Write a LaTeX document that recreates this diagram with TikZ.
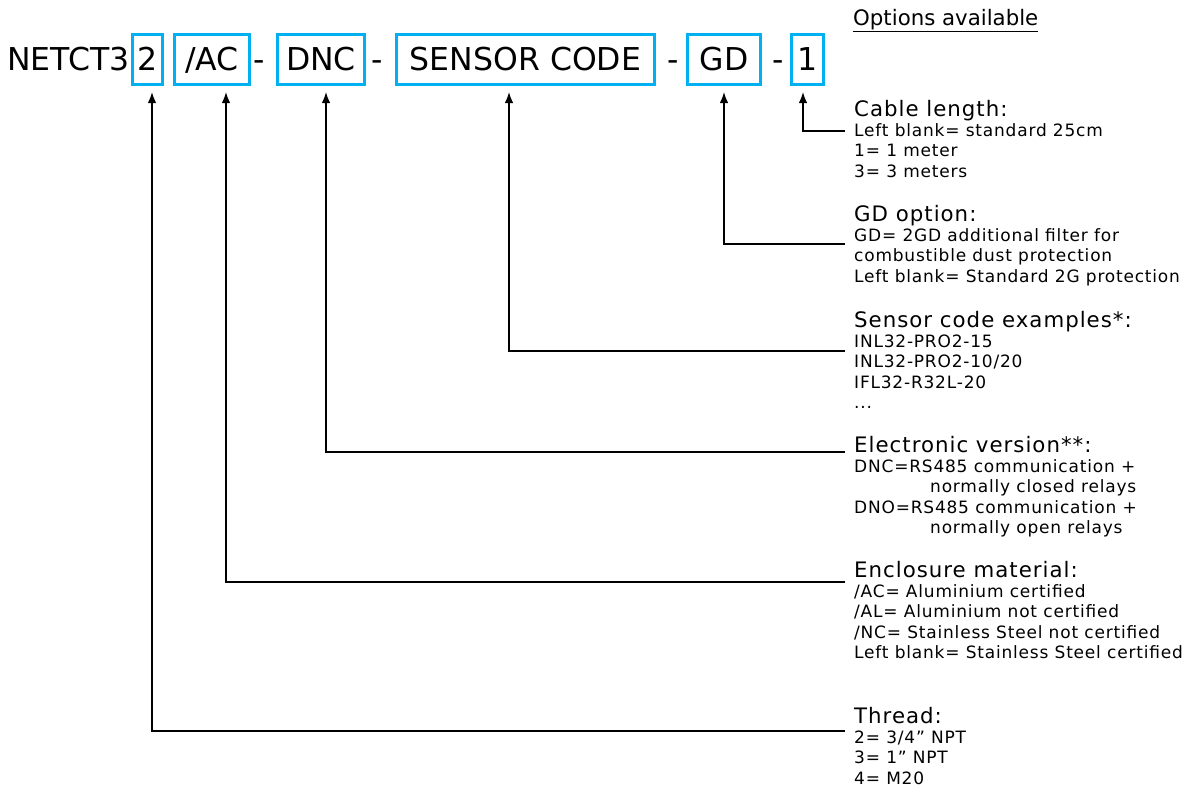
\documentclass[tikz,border=0pt]{standalone}
\usepackage{fontspec}
\setmainfont{DejaVu Sans}
\newfontfamily\bodyfam[LetterSpace=4.7]{DejaVu Sans}
\usetikzlibrary{arrows.meta}
\definecolor{boxblue}{RGB}{0,176,240}
\newcommand{\codefont}{\fontsize{31.5}{36}\selectfont}
\newcommand{\titlefont}{\fontsize{21.3}{20.5}\selectfont}
\newcommand{\bodyfont}{\bodyfam\fontsize{17}{20.3}\selectfont}

\begin{document}
\begin{tikzpicture}[x=1pt,y=-1pt,
        codebox/.style={draw=boxblue,line width=3pt,inner sep=0pt,minimum height=50pt,text height=27pt,text depth=6pt,font=\codefont},
        optblock/.style={anchor=north west,inner sep=0pt,align=left,font=\bodyfont},
        conn/.style={line width=1.5pt,-{Latex[length=11pt,width=8.5pt]}}]
            \useasboundingbox (0,0) rectangle (1197,790);
            \node [font=\codefont,anchor=base east,inner sep=0pt] (pre) at (129.5,70) {NETCT3};
            \node [codebox,minimum width=30pt] (thr) at (147.5,59.5) {2};
            \node [codebox,minimum width=75pt] (mat) at (212,59.5) {/AC};
            \node [font=\codefont,anchor=base,inner sep=0pt] (d1) at (259.5,70) {-};
            \node [codebox,minimum width=87pt] (ver) at (321,59.5) {DNC};
            \node [font=\codefont,anchor=base,inner sep=0pt] (d2) at (377,70) {-};
            \node [codebox,minimum width=258pt] (sen) at (525.5,59.5) {SENSOR CODE};
            \node [font=\codefont,anchor=base,inner sep=0pt] (d3) at (673,70) {-};
            \node [codebox,minimum width=73pt] (gd) at (724,59.5) {GD\hspace{14pt}};
            \node [font=\codefont,anchor=base,inner sep=0pt] (d4) at (778,70) {-};
            \node [codebox,minimum width=32pt] (len) at (807.5,59.5) {1};

            \node [font=\titlefont,anchor=base west,inner sep=0pt] (opts) at (853,25) {\underline{Options available}};

            \node [optblock] (cable) at (854,99.8) {{\titlefont Cable length:}\\Left blank= standard 25cm\\1= 1 meter\\3= 3 meters};
            \node [optblock] (gdopt) at (854,204.8) {{\titlefont GD option:}\\GD= 2GD additional filter for\\combustible dust protection\\Left blank= Standard 2G protection};
            \node [optblock] (sensor) at (854,310.8) {{\titlefont Sensor code examples*:}\\INL32-PRO2-15\\INL32-PRO2-10/20\\IFL32-R32L-20\\...};
            \node [optblock] (elec) at (854,435.8) {{\titlefont Electronic version**:}\\DNC=RS485 communication +\\\hspace*{76pt}normally closed relays\\DNO=RS485 communication +\\\hspace*{76pt}normally open relays};
            \node [optblock] (encl) at (854,560.8) {{\titlefont Enclosure material:}\\/AC= Aluminium certified\\/AL= Aluminium not certified\\/NC= Stainless Steel not certified\\Left blank= Stainless Steel certified};
            \node [optblock] (thread) at (854,706.8) {{\titlefont Thread:}\\2= 3/4” NPT\\3= 1” NPT\\4= M20};

            \coordinate (lenin) at (845,131);
            \coordinate (gdin) at (845,244);
            \coordinate (senin) at (845,351);
            \coordinate (verin) at (845,452);
            \coordinate (matin) at (845,582);
            \coordinate (thrin) at (845,731);

            \draw [conn] (lenin) -| ([xshift=-4.5pt,yshift=-6pt]len.south);
            \draw [conn] (gdin) -| ([yshift=-6pt]gd.south);
            \draw [conn] (senin) -| ([xshift=-16.5pt,yshift=-6pt]sen.south);
            \draw [conn] (verin) -| ([xshift=5pt,yshift=-6pt]ver.south);
            \draw [conn] (matin) -| ([xshift=14pt,yshift=-6pt]mat.south);
            \draw [conn] (thrin) -| ([xshift=4.5pt,yshift=-6pt]thr.south);
        \end{tikzpicture}
\end{document}
